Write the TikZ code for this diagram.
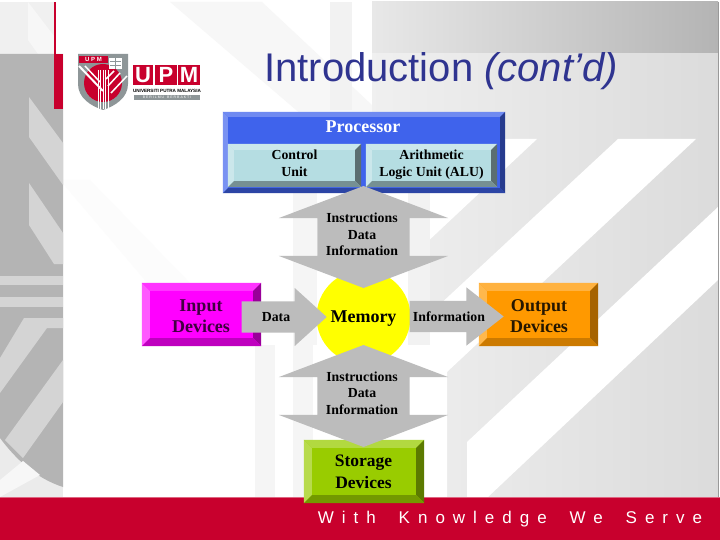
\documentclass[tikz,border=0pt]{standalone}
\usepackage{fontspec}
\setmainfont{Liberation Serif}
\newfontfamily\titlefont{Liberation Sans}
\newfontfamily\footfont[LetterSpace=47,WordSpace=1.8]{Liberation Sans}
\usetikzlibrary{calc,shapes.arrows}

\definecolor{upmred}{HTML}{C8002D}
\definecolor{arrowgrey}{HTML}{BCBCBC}
\definecolor{bandgrey}{HTML}{B4B4B4}
\definecolor{bandlight}{HTML}{D4D4D4}
\definecolor{shieldgrey}{HTML}{8E9698}
\definecolor{titleblue}{HTML}{2F3490}
\definecolor{procblue}{HTML}{3F63EC}
\definecolor{unitcyan}{HTML}{B5DDE2}
\definecolor{memyellow}{HTML}{FFFF00}
\definecolor{inmagenta}{HTML}{FF00FF}
\definecolor{outorange}{HTML}{FF9900}
\definecolor{storegreen}{HTML}{99CC00}

% name, depth, left, top, right, bottom
\newcommand{\bevels}[6]{
    \fill[#3] (#1.north west) -- (#1.south west) -- ($(#1.south west)+(#2,-#2)$) -- ($(#1.north west)+(#2,#2)$) -- cycle;
    \fill[#4] (#1.north west) -- (#1.north east) -- ($(#1.north east)+(-#2,#2)$) -- ($(#1.north west)+(#2,#2)$) -- cycle;
    \fill[#5] (#1.north east) -- (#1.south east) -- ($(#1.south east)+(-#2,-#2)$) -- ($(#1.north east)+(-#2,#2)$) -- cycle;
    \fill[#6] (#1.south west) -- (#1.south east) -- ($(#1.south east)+(-#2,-#2)$) -- ($(#1.south west)+(#2,-#2)$) -- cycle;
}

\begin{document}
\begin{tikzpicture}[x=1pt,y=-1pt,
    box/.style={inner sep=0pt,align=center},
    smalltext/.style={inner sep=0pt,align=center,font=\fontsize{13.8}{16.6}\selectfont\bfseries},
    bigtext/.style={inner sep=0pt,align=center,font=\fontsize{18}{20.5}\selectfont\bfseries},
    logoletter/.style={fill=upmred,minimum height=20,inner sep=0pt,text=white,font=\titlefont\bfseries\fontsize{22}{22}\selectfont},
    sidearrow/.style={shape=single arrow,fill=arrowgrey,inner sep=0pt,text height=31pt,text depth=0pt,single arrow head extend=13.5,anchor=tip},
    busarrow/.style={shape=double arrow,rotate=90,fill=arrowgrey,inner sep=0pt,text height=92pt,text depth=0pt,minimum height=102,double arrow head extend=38.5,double arrow tip angle=138.5}]
    \useasboundingbox (0,0) rectangle (720,540);

    %background, right side
    \fill[white] (0,0) rectangle (720,540);
    \fill[black!3] (170,2) -- (262,2) -- (372,105) -- (372,175) -- cycle;
    \fill[black!1] (60,180) -- (90,180) -- (250,345) -- (200,345) -- cycle;
    \fill[black!5] (330,2) rectangle (352,110);
    \fill[black!4] (293,193) rectangle (317,345);
    \fill[black!4] (255,345) rectangle (275,497);
    \fill[black!4] (293,345) rectangle (313,497);
    \shade[left color=black!9,right color=bandgrey] (372,2) rectangle (718,54);
    \shade[left color=black!6,right color=black!14] (372,54) rectangle (718,497);
    \fill[white] (372,139) rectangle (408,497);
    \fill[white] (408,139) -- (537,139) -- (408,260) -- cycle;
    \fill[white] (618,139) -- (696,139) -- (447,372) -- (447,497) -- (408,497) -- (408,334) -- cycle;
    \fill[white] (718,207) -- (718,280) -- (488,497) -- (467,497) -- (467,442) -- cycle;
    \fill[black!5] (408,193) rectangle (430,345);
    \fill[black!40] (718,2) rectangle (719,497);

    %background, left side
    \fill[black!6] (0,2) rectangle (54,54);
    \fill[black!3] (28,2) -- (54,36) -- (54,54) -- (38,54) -- (28,40) -- cycle;
    \fill[black!8] (0,54) rectangle (63,497);
    \fill[bandgrey] (0,54) -- (63,54) -- (63,487) .. controls (35,478) and (15,458) .. (0,438) -- cycle;
    \fill[bandlight] (29,97) -- (63,143) -- (63,185) -- (29,137) -- cycle;
    \fill[bandlight] (29,183) -- (63,233) -- (63,264) -- (54,264) -- (29,225) -- cycle;
    \fill[bandlight] (0,276) rectangle (63,285);
    \fill[bandlight] (0,297) rectangle (63,307);
    \fill[bandlight] (24,318) -- (63,318) -- (63,328) -- (47,328) -- (0,393) -- (0,358) -- cycle;
    \fill[bandlight] (63,360) -- (63,402) -- (23,458) -- (5,440) -- cycle;
    \fill[black!3] (0,497) -- (0,480) -- (23,461) -- (40,475) -- (0,497) -- cycle;
    \fill[upmred] (54,2) rectangle (55.5,54);
    \fill[upmred] (54,54) rectangle (63,109);

    %footer
    \fill[upmred] (0,497) rectangle (720,540);
    \fill[upmred!60] (0,497) rectangle (720,498);
    \node[inner sep=0pt,text=white,font=\footfont\fontsize{17}{17}\selectfont] (motto) at (510,519) {With Knowledge We Serve};

    %logo
    \fill[shieldgrey] (78,54) -- (128,54) -- (128,84) .. controls (128,98) and (115,106) .. (103,110) .. controls (91,106) and (78,98) .. (78,84) -- cycle;
    \fill[upmred] (103,83) circle (19);
    \fill[upmred] (79,56) rectangle (108,63);
    \node[inner sep=0pt,text=white,font=\titlefont\bfseries\fontsize{6}{6}\selectfont] (shieldname) at (93.5,59.5) {U P M};
    \fill[white] (109,58) rectangle (122,69);
    \draw[shieldgrey,line width=0.7pt] (115.5,58) -- (115.5,69) (110,61) -- (121,61) (110,65) -- (121,65);
    \draw[white,line width=2pt] (79,66) -- (103,91);
    \draw[white,line width=1.5pt] (85,66) -- (100,82);
    \draw[white,line width=1.5pt] (111,93) -- (127,76);
    \draw[white,line width=1.5pt] (108,86) -- (120,73);
    \draw[white,line width=1.5pt] (106,79) -- (114,71);
    \foreach \barx in {98,100.5,103,105.5,108}
        \draw[white,line width=0.8pt] (\barx,70) -- (\barx,109);
    \node[logoletter,minimum width=20] (logou) at (143,75) {U};
    \node[logoletter,minimum width=22] (logop) at (166,75) {P};
    \node[logoletter,minimum width=22] (logom) at (189,75) {M};
    \node[inner sep=0pt,font=\titlefont\bfseries\fontsize{4.6}{4.6}\selectfont] (logoname) at (167,90.5) {UNIVERSITI PUTRA MALAYSIA};
    \node[fill=shieldgrey,minimum width=66,minimum height=5,inner sep=0pt,text=white,font=\titlefont\fontsize{3.5}{3.5}\selectfont] (logomotto) at (167,97.5) {B E R I L M U \ \ B E R B A K T I};

    %title
    \node[inner sep=0pt,text=titleblue,font=\titlefont\fontsize{40}{40}\selectfont] (title) at (441,71) {Introduction \textit{(cont’d)}};

    %processor
    \node[box,fill=procblue,minimum width=282,minimum height=81] (processor) at (364,152.5) {};
    \bevels{processor}{5}{procblue!70!white}{procblue!75!white}{procblue!60!black}{procblue!70!black}
    \node[bigtext,text=white] (proctitle) at (363,127) {Processor};
    \node[box,fill=unitcyan,minimum width=133,minimum height=43] (control) at (294.5,165.5) {};
    \bevels{control}{6}{unitcyan!70!white}{unitcyan!70!white}{unitcyan!50!black}{unitcyan!65!black}
    \node[box,fill=unitcyan,minimum width=131,minimum height=43] (alu) at (431.5,165.5) {};
    \bevels{alu}{6}{unitcyan!70!white}{unitcyan!70!white}{unitcyan!50!black}{unitcyan!65!black}
    \node[smalltext] (controltext) at (294.5,163) {Control\\Unit};
    \node[smalltext] (alutext) at (431.5,164.5) {Arithmetic\\Logic Unit (ALU)};

    %memory
    \node[circle,fill=memyellow,minimum size=94,inner sep=0pt] (memory) at (363.5,317) {};

    %input, output, storage
    \node[box,fill=inmagenta,minimum width=119,minimum height=63] (input) at (201.5,314.5) {};
    \bevels{input}{8}{inmagenta!65!white}{inmagenta!80!white}{inmagenta!60!black}{inmagenta!75!black}
    \node[box,fill=outorange,minimum width=119,minimum height=63] (output) at (538.5,314.5) {};
    \bevels{output}{8}{outorange!70!white}{outorange!75!white}{outorange!65!black}{outorange!80!black}
    \node[box,fill=storegreen,minimum width=120,minimum height=63] (storage) at (364,471.5) {};
    \bevels{storage}{8}{storegreen!70!white}{storegreen!75!white}{storegreen!60!black}{storegreen!75!black}

    %arrows
    \node[busarrow] (busup) at (363.5,237) {};
    \node[busarrow] (busdown) at (363.5,396) {};
    \node[sidearrow,minimum height=85,single arrow tip angle=84.4] (dataarrow) at (327,317) {};
    \node[sidearrow,minimum height=94,single arrow tip angle=76] (infoarrow) at (504,316.5) {};

    %labels
    \node[smalltext] (busuptext) at (362,234.5) {Instructions\\Data\\Information};
    \node[smalltext] (busdowntext) at (362,393) {Instructions\\Data\\Information};
    \node[smalltext] (datatext) at (276,317) {Data};
    \node[smalltext] (infotext) at (449,317) {Information};
    \node[bigtext] (memorytext) at (363.5,319) {Memory};
    \node[bigtext,text=inmagenta!25!black] (inputtext) at (201,316) {Input\\Devices};
    \node[bigtext,text=outorange!15!black] (outputtext) at (539,316) {Output\\Devices};
    \node[bigtext,font=\fontsize{17.5}{21.5}\selectfont\bfseries] (storagetext) at (363.5,472) {Storage\\Devices};
\end{tikzpicture}
\end{document}
